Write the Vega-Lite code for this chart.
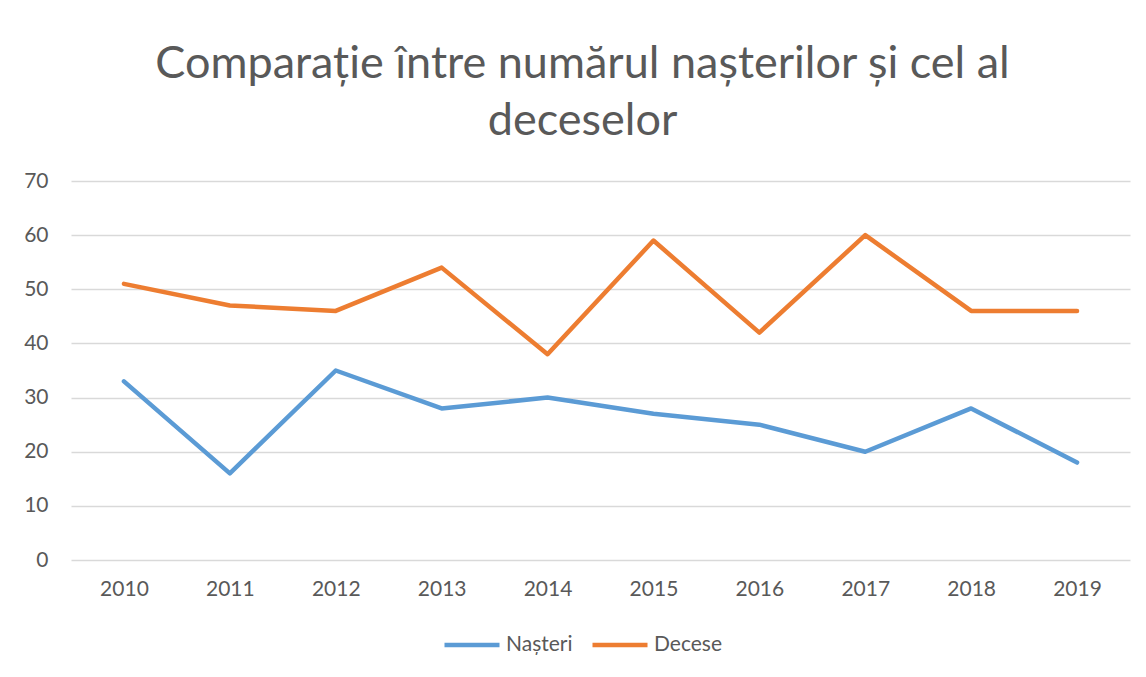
{
  "$schema": "https://vega.github.io/schema/vega-lite/v6.json",
  "autosize": "none",
  "width": 1059,
  "height": 379,
  "padding": {"left": 71, "top": 181, "right": 16, "bottom": 117},
  "background": "white",
  "title": {
    "text": ["Comparație între numărul nașterilor și cel al", "deceselor"],
    "font": "Lato",
    "fontSize": 45,
    "fontWeight": "normal",
    "color": "#595959",
    "lineHeight": 57,
    "anchor": "middle",
    "dx": -18,
    "offset": 26
  },
  "data": {
    "values": [
      {"year": "2010", "series": "Nașteri", "value": 33},
      {"year": "2011", "series": "Nașteri", "value": 16},
      {"year": "2012", "series": "Nașteri", "value": 35},
      {"year": "2013", "series": "Nașteri", "value": 28},
      {"year": "2014", "series": "Nașteri", "value": 30},
      {"year": "2015", "series": "Nașteri", "value": 27},
      {"year": "2016", "series": "Nașteri", "value": 25},
      {"year": "2017", "series": "Nașteri", "value": 20},
      {"year": "2018", "series": "Nașteri", "value": 28},
      {"year": "2019", "series": "Nașteri", "value": 18},
      {"year": "2010", "series": "Decese", "value": 51},
      {"year": "2011", "series": "Decese", "value": 47},
      {"year": "2012", "series": "Decese", "value": 46},
      {"year": "2013", "series": "Decese", "value": 54},
      {"year": "2014", "series": "Decese", "value": 38},
      {"year": "2015", "series": "Decese", "value": 59},
      {"year": "2016", "series": "Decese", "value": 42},
      {"year": "2017", "series": "Decese", "value": 60},
      {"year": "2018", "series": "Decese", "value": 46},
      {"year": "2019", "series": "Decese", "value": 46}
    ]
  },
  "mark": {"type": "line", "strokeWidth": 4.5, "strokeCap": "round", "strokeJoin": "round"},
  "encoding": {
    "x": {
      "field": "year",
      "type": "ordinal",
      "scale": {"type": "point", "padding": 0.5},
      "axis": {
        "title": null,
        "labelAngle": 0,
        "ticks": false,
        "domain": false,
        "grid": false,
        "labelFont": "Lato",
        "labelFontSize": 21,
        "labelColor": "#595959",
        "labelPadding": 18
      }
    },
    "y": {
      "field": "value",
      "type": "quantitative",
      "scale": {"domain": [0, 70]},
      "axis": {
        "title": null,
        "values": [0, 10, 20, 30, 40, 50, 60, 70],
        "ticks": false,
        "domain": false,
        "gridColor": "#D9D9D9",
        "gridWidth": 1.5,
        "labelFont": "Lato",
        "labelFontSize": 21,
        "labelColor": "#595959",
        "labelPadding": 23
      }
    },
    "color": {
      "field": "series",
      "type": "nominal",
      "scale": {"domain": ["Nașteri", "Decese"], "range": ["#5B9BD5", "#ED7D31"]},
      "legend": {
        "title": null,
        "orient": "none",
        "legendX": 371,
        "legendY": 434,
        "direction": "horizontal",
        "symbolType": "stroke",
        "symbolSize": 3025,
        "symbolStrokeWidth": 4.5,
        "labelFont": "Lato",
        "labelFontSize": 21,
        "labelColor": "#595959",
        "labelOffset": 4,
        "columnPadding": 10
      }
    }
  },
  "config": {"view": {"stroke": null}}
}
